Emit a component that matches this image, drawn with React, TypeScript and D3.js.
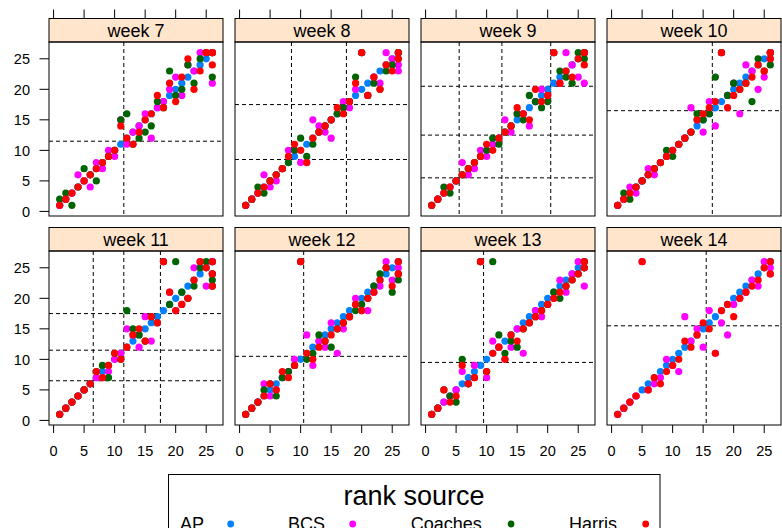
import React from 'react';
import * as d3 from 'd3';

// each row: [AP, BCS, Coaches, Harris] ranks, 26 = unranked; x is the AP rank
const week7 = [
  [1, 1, 2, 1], [2, 2, 3, 2], [3, 3, 1, 3], [4, 6, 4, 4], [5, 5, 7, 5], [6, 4, 6, 6],
  [7, 8, 5, 7], [8, 7, 8, 8], [9, 10, 9, 9], [10, 9, 10, 10], [11, 15, 15, 14], [12, 11, 16, 12],
  [13, 13, 11, 11], [14, 14, 12, 13], [15, 16, 13, 15], [16, 12, 14, 16], [17, 17, 18, 19], [18, 18, 17, 17],
  [19, 20, 23, 21], [20, 22, 19, 18], [21, 19, 20, 22], [22, 24, 24, 25], [23, 23, 21, 20], [24, 26, 25, 23],
  [25, 26, 26, 26], [26, 21, 22, 24], [26, 26, 26, 26],
];
const week8 = [
  [1, 1, 1, 1], [2, 2, 2, 2], [3, 3, 4, 3], [4, 6, 3, 4], [5, 4, 5, 5], [6, 5, 6, 6],
  [7, 7, 7, 7], [8, 10, 8, 9], [9, 10, 10, 11], [10, 8, 12, 10], [11, 8, 9, 8], [12, 15, 11, 12],
  [13, 14, 13, 13], [14, 13, 14, 14], [15, 12, 15, 15], [16, 16, 16, 17], [17, 18, 17, 16], [18, 17, 18, 18],
  [19, 20, 22, 21], [20, 26, 26, 26], [21, 19, 19, 19], [22, 22, 21, 22], [23, 21, 20, 20], [24, 26, 23, 24],
  [25, 25, 24, 23], [26, 24, 26, 26], [26, 23, 25, 25],
];
const week9 = [
  [1, 1, 1, 1], [2, 2, 2, 2], [3, 3, 4, 3], [4, 4, 3, 4], [5, 5, 5, 5], [6, 8, 6, 6],
  [7, 6, 7, 7], [8, 7, 8, 8], [9, 10, 9, 9], [10, 9, 10, 11], [11, 11, 12, 10], [12, 12, 11, 12],
  [13, 15, 13, 13], [14, 13, 14, 14], [15, 16, 16, 17], [16, 16, 15, 16], [17, 14, 19, 15], [18, 18, 18, 20],
  [19, 20, 17, 18], [20, 19, 18, 19], [21, 26, 26, 26], [22, 21, 23, 21], [23, 26, 22, 23], [24, 24, 21, 22],
  [25, 22, 26, 25], [26, 21, 25, 26], [26, 26, 26, 24],
];
const week10 = [
  [1, 1, 1, 1], [2, 2, 3, 2], [3, 4, 2, 3], [4, 3, 4, 4], [5, 5, 5, 5], [6, 7, 6, 6],
  [7, 6, 7, 7], [8, 8, 8, 8], [9, 9, 10, 9], [10, 10, 9, 10], [11, 11, 11, 11], [12, 12, 12, 12],
  [13, 17, 13, 13], [14, 15, 16, 15], [15, 13, 15, 16], [16, 18, 16, 17], [17, 14, 22, 18], [18, 26, 26, 26],
  [19, 19, 19, 17], [20, 21, 21, 19], [21, 16, 20, 20], [22, 24, 21, 21], [23, 23, 18, 22], [24, 20, 25, 24],
  [25, 22, 23, 23], [26, 26, 24, 26], [26, 25, 26, 25],
];
const week11 = [
  [1, 1, 1, 1], [2, 2, 2, 2], [3, 3, 3, 3], [4, 4, 4, 4], [5, 5, 5, 5], [6, 6, 6, 6],
  [7, 7, 8, 8], [8, 7, 9, 7], [9, 8, 7, 9], [10, 10, 11, 11], [11, 11, 10, 10], [12, 15, 18, 12],
  [13, 14, 15, 14], [14, 12, 14, 15], [15, 17, 13, 13], [16, 13, 17, 17], [17, 16, 16, 16], [18, 26, 26, 26],
  [19, 21, 19, 21], [20, 18, 26, 18], [21, 19, 21, 19], [22, 20, 20, 20], [23, 25, 22, 23], [24, 26, 25, 26],
  [25, 22, 26, 25], [26, 26, 23, 26], [26, 24, 24, 24], [26, 22, 22, 22],
];
const week12 = [
  [1, 1, 1, 1], [2, 2, 2, 2], [3, 3, 3, 3], [4, 6, 5, 4], [5, 4, 6, 6], [6, 5, 4, 5],
  [7, 7, 7, 8], [8, 8, 8, 7], [9, 10, 9, 9], [10, 26, 26, 26], [11, 14, 10, 11], [12, 9, 11, 10],
  [13, 13, 14, 12], [14, 12, 13, 13], [15, 16, 12, 14], [16, 11, 15, 15], [17, 15, 16, 16], [18, 17, 17, 17],
  [19, 20, 18, 19], [20, 18, 19, 18], [21, 18, 20, 20], [22, 21, 22, 21], [23, 22, 24, 23], [24, 26, 25, 25],
  [25, 23, 21, 22], [26, 25, 23, 26], [26, 24, 24, 24],
];
const week13 = [
  [1, 1, 1, 1], [2, 2, 2, 2], [3, 3, 5, 5], [4, 4, 4, 3], [5, 5, 3, 4], [6, 8, 10, 9],
  [7, 6, 6, 6], [8, 9, 7, 7], [9, 26, 26, 26], [10, 7, 8, 8], [11, 13, 26, 11], [12, 12, 14, 12],
  [13, 10, 11, 10], [14, 12, 13, 14], [15, 15, 12, 13], [16, 11, 15, 15], [17, 16, 16, 16], [18, 18, 17, 17],
  [19, 17, 18, 18], [20, 19, 19, 19], [21, 20, 21, 20], [22, 23, 20, 21], [23, 21, 22, 22], [24, 24, 23, 23],
  [25, 26, 24, 24], [26, 22, 25, 26], [26, 25, 26, 25],
];
// no Coaches ranks in week 14
const week14 = [
  [1, 1, null, 1], [2, 2, null, 2], [3, 3, null, 3], [4, 4, null, 4], [5, 26, null, 26], [6, 5, null, 5],
  [7, 6, null, 7], [8, 7, null, 6], [9, 10, null, 8], [10, 9, null, 9], [11, 8, null, 10], [12, 17, null, 13],
  [13, 13, null, 12], [14, 15, null, 14], [15, 12, null, 16], [16, 18, null, 15], [17, 11, null, 11], [18, 16, null, 18],
  [19, 14, null, 19], [20, 19, null, 17], [21, 20, null, 20], [22, 21, null, 21], [23, 23, null, 22], [24, 22, null, 23],
  [25, 26, null, 25], [26, 25, null, 26], [26, 24, null, 24],
];

// dashed guides (same value used for vertical and horizontal)
const cuts = [[11.5], [8.5, 17.5], [5.5, 12.5, 20.5], [16.5], [6.5, 11.5, 17.5], [10.5], [9.5], [15.5]];
const weekLabels = ['week 7', 'week 8', 'week 9', 'week 10', 'week 11', 'week 12', 'week 13', 'week 14'];
const weekData = [week7, week8, week9, week10, week11, week12, week13, week14];

const sources = ['AP', 'BCS', 'Coaches', 'Harris'];
const sourceColors = ['#0080ff', '#ff00ff', '#006400', '#ff0000'];
const ticks = [0, 5, 10, 15, 20, 25];

const W = 782, H = 528;
const panelW = 174, panelH = 174;
const colLeft = [49, 235, 421, 607];
const rowTop = [42, 251];
const stripH = 23.5;
const font = "'Liberation Sans', Arial, Helvetica, sans-serif";

export default function App() {
  const x = d3.scaleLinear().domain([-0.75, 27.75]).range([0, panelW]);
  const y = d3.scaleLinear().domain([-0.75, 27.75]).range([panelH, 0]);

  const legendText = [180, 288, 410.7, 569];
  const legendDot = [230.7, 352.7, 511, 645.7];

  return (
    <svg width={W} height={H} style={{ position: 'absolute', left: 0, top: 0, fontFamily: font }}>
      <rect width={W} height={H} fill="#fff" />
      {weekData.map((rows, i) => {
        const col = i % 4, row = Math.floor(i / 4);
        const px = colLeft[col], py = rowTop[row];
        return (
          <g key={i}>
            {/* strip */}
            <rect x={px} y={py - stripH} width={panelW} height={stripH} fill="#ffe5cc" stroke="#000" strokeWidth={1} />
            <text x={px + panelW / 2} y={py - stripH + 18} textAnchor="middle" fontSize={18}>{weekLabels[i]}</text>
            {/* axes */}
            {row === 0 && ticks.map(t => (
              <line key={'tt' + t} x1={px + x(t)} x2={px + x(t)} y1={py - stripH - 9} y2={py - stripH} stroke="#000" />
            ))}
            {row === 1 && ticks.map(t => (
              <g key={'bt' + t}>
                <line x1={px + x(t)} x2={px + x(t)} y1={py + panelH} y2={py + panelH + 8} stroke="#000" />
                <text x={px + x(t)} y={py + panelH + 31} textAnchor="middle" fontSize={14.5}>{t}</text>
              </g>
            ))}
            {col === 0 && ticks.map(t => (
              <g key={'lt' + t}>
                <line x1={px - 9.5} x2={px} y1={py + y(t)} y2={py + y(t)} stroke="#000" />
                <text x={30} y={py + y(t) + 5.2} textAnchor="end" fontSize={14.5}>{t}</text>
              </g>
            ))}
            <g transform={`translate(${px},${py})`}>
              {cuts[i].map(c => (
                <g key={'c' + c}>
                  <line x1={x(c)} x2={x(c)} y1={0} y2={panelH} stroke="#000" strokeDasharray="4,3" />
                  <line x1={0} x2={panelW} y1={y(c)} y2={y(c)} stroke="#000" strokeDasharray="4,3" />
                </g>
              ))}
              {sources.map((s, k) => (
                <g key={s} fill={sourceColors[k]}>
                  {rows.filter(r => r[k] != null).map((r, j) => (
                    <circle key={j} cx={x(r[0] as number)} cy={y(r[k] as number)} r={3.6} />
                  ))}
                </g>
              ))}
              <rect x={0} y={0} width={panelW} height={panelH} fill="none" stroke="#000" strokeWidth={1} />
            </g>
          </g>
        );
      })}
      {/* legend */}
      <rect x={168.5} y={474.5} width={491.5} height={70} fill="none" stroke="#000" />
      <text x={414} y={505} textAnchor="middle" fontSize={27}>rank source</text>
      {sources.map((s, k) => (
        <g key={s}>
          <text x={legendText[k]} y={530} fontSize={18}>{s}</text>
          <circle cx={legendDot[k]} cy={524} r={3.4} fill={sourceColors[k]} />
        </g>
      ))}
    </svg>
  );
}
